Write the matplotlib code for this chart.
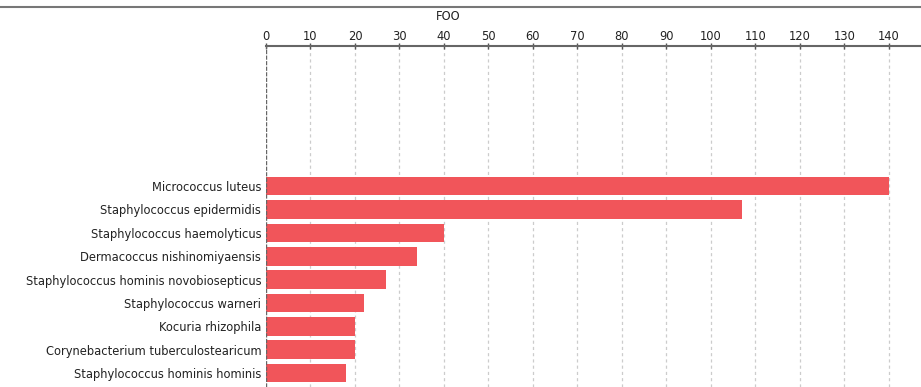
import matplotlib
matplotlib.use("Agg")
import matplotlib.pyplot as plt
import numpy as np

species = [
    "Micrococcus luteus",
    "Staphylococcus epidermidis",
    "Staphylococcus haemolyticus",
    "Dermacoccus nishinomiyaensis",
    "Staphylococcus hominis novobiosepticus",
    "Staphylococcus warneri",
    "Kocuria rhizophila",
    "Corynebacterium tuberculostearicum",
    "Staphylococcus hominis hominis",
]
foo = [140, 107, 40, 34, 27, 22, 20, 20, 18]
ticks = list(range(0, 150, 10))

W, H = 921, 387
fig = plt.figure(figsize=(W / 100, H / 100), dpi=100)
plt.rcParams["font.family"] = "DejaVu Sans"

left, right = 266 / W, 920 / W
top = 1 - 46 / H
ax = fig.add_axes([left, 0, right - left, top])

y = np.arange(len(species))
ax.barh(y, foo, height=0.8, color="#f1555a", zorder=2)

ax.set_xlim(0, 147)
ax.set_ylim(8.6, -6.0)

ax.xaxis.tick_top()
ax.set_xticks(ticks)
ax.set_xticklabels([str(t) for t in ticks], fontsize=8.3, color="#222222")
ax.tick_params(axis="x", direction="inout", length=4, width=1, color="#555555", pad=0.5)
ax.set_yticks(y)
ax.set_yticklabels(species, fontsize=8.3, color="#222222")
ax.tick_params(axis="y", length=0, pad=3.5)

for t in ticks[1:]:
    ax.axvline(t, color="#cccccc", lw=0.9, ls=(0, (2.5, 2.5)), zorder=1)
ax.axvline(0, color="#666666", lw=1.0, ls=(0, (3, 1)), zorder=3)

for s in ["right", "bottom", "left"]:
    ax.spines[s].set_visible(False)
ax.spines["top"].set_color("#666666")
ax.spines["top"].set_linewidth(1.5)

fig.text(448 / W, 1 - 16 / H, "FOO", fontsize=8.3, ha="center", va="center", color="#222222")
fig.add_artist(plt.Line2D([0, 1], [1 - 7 / H, 1 - 7 / H], color="#777777", lw=1.5,
                          transform=fig.transFigure))

fig.savefig("out.png", dpi=100)
